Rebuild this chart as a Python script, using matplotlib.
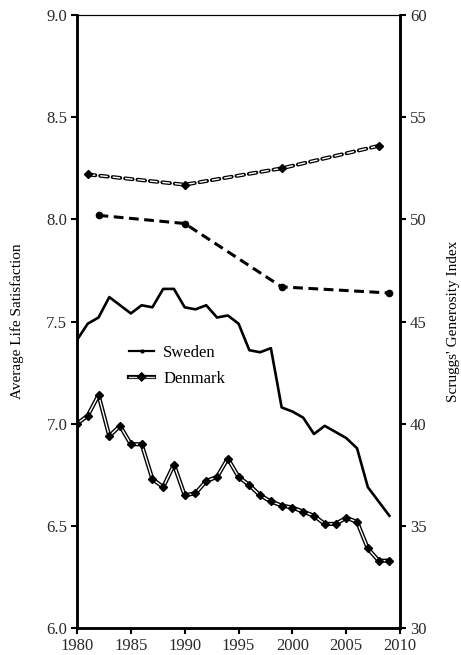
import matplotlib
matplotlib.use("Agg")
import matplotlib.pyplot as plt
import matplotlib.patheffects as pe
from matplotlib.lines import Line2D

plt.rcParams["font.family"] = "Liberation Serif"

# ----- data -----
years = list(range(1980, 2010))
sweden_ls = [7.41, 7.49, 7.52, 7.62, 7.58, 7.54, 7.58, 7.57, 7.66, 7.66,
             7.57, 7.56, 7.58, 7.52, 7.53, 7.49, 7.36, 7.35, 7.37, 7.08,
             7.06, 7.03, 6.95, 6.99, 6.96, 6.93, 6.88, 6.69, 6.62, 6.55]
denmark_ls = [7.00, 7.04, 7.14, 6.94, 6.99, 6.90, 6.90, 6.73, 6.69, 6.80,
              6.65, 6.66, 6.72, 6.74, 6.83, 6.74, 6.70, 6.65, 6.62, 6.60,
              6.59, 6.57, 6.55, 6.51, 6.51, 6.54, 6.52, 6.39, 6.33, 6.33]

gen_years_dk = [1981, 1990, 1999, 2008]
gen_dk = [52.2, 51.7, 52.5, 53.6]
gen_years_se = [1982, 1990, 1999, 2009]
gen_se = [50.2, 49.8, 46.7, 46.4]

# hollow "double line" look
hollow = [pe.Stroke(linewidth=3.0, foreground="black"), pe.Normal()]

# ----- figure -----
fig = plt.figure(figsize=(4.61, 6.55), dpi=100)
ax = fig.add_axes([0.167, 0.041, 0.701, 0.936])
ax2 = ax.twinx()

# Sweden life satisfaction: solid black
ax.plot(years, sweden_ls, color="black", lw=1.9, zorder=3)

# Denmark life satisfaction: hollow line with diamonds
ax.plot(years, denmark_ls, color="white", lw=1.0, path_effects=hollow, zorder=3)
ax.plot(years, denmark_ls, ls="none", marker="D", markersize=4.2,
        color="black", zorder=5)

# Generosity index (right axis)
ax2.plot(gen_years_se, gen_se, color="black", lw=2.2, dashes=(3.2, 1.8),
         marker="o", markersize=4.5, zorder=3)
ax2.plot(gen_years_dk, gen_dk, color="white", lw=1.0, dashes=(5.5, 3.5),
         path_effects=[pe.Stroke(linewidth=2.8, foreground="black", capstyle="round"),
                       pe.Normal()], zorder=3)
ax2.plot(gen_years_dk, gen_dk, ls="none", marker="D", markersize=4.5,
         color="black", zorder=4)

# ----- axes -----
ax.set_xlim(1980, 2010)
ax.set_ylim(6.0, 9.0)
ax2.set_ylim(30, 60)
ax.set_xticks(range(1980, 2011, 5))
ax.set_yticks([6.0, 6.5, 7.0, 7.5, 8.0, 8.5, 9.0])
ax.set_yticklabels([f"{v:.1f}" for v in [6.0, 6.5, 7.0, 7.5, 8.0, 8.5, 9.0]])
ax2.set_yticks(range(30, 61, 5))

for a in (ax, ax2):
    a.tick_params(direction="out", length=4, width=1.5, labelsize=12,
                  colors="black", labelcolor="#2a2a2a", pad=3)
    for side in ("left", "bottom", "right"):
        a.spines[side].set_linewidth(1.8)
    a.spines["top"].set_linewidth(0.8)

ax.set_ylabel("Average Life Satisfaction", fontsize=11, labelpad=16)
ax2.set_ylabel("Scruggs' Generosity Index", fontsize=11, labelpad=15)

# legend proxies
se_handle = Line2D([], [], color="black", lw=1.6, marker="o", markersize=2)
dk_handle = Line2D([], [], color="#dddddd", lw=1.0, marker="D", markersize=2.2,
                   markerfacecolor="black", markeredgecolor="black",
                   path_effects=hollow)
ax.legend([se_handle, dk_handle], ["Sweden", "Denmark"],
          loc="center left", bbox_to_anchor=(0.115, 0.428),
          frameon=False, fontsize=12, handlelength=1.5,
          handletextpad=0.55, labelspacing=0.6, numpoints=1)

fig.savefig("out.png", dpi=100)
